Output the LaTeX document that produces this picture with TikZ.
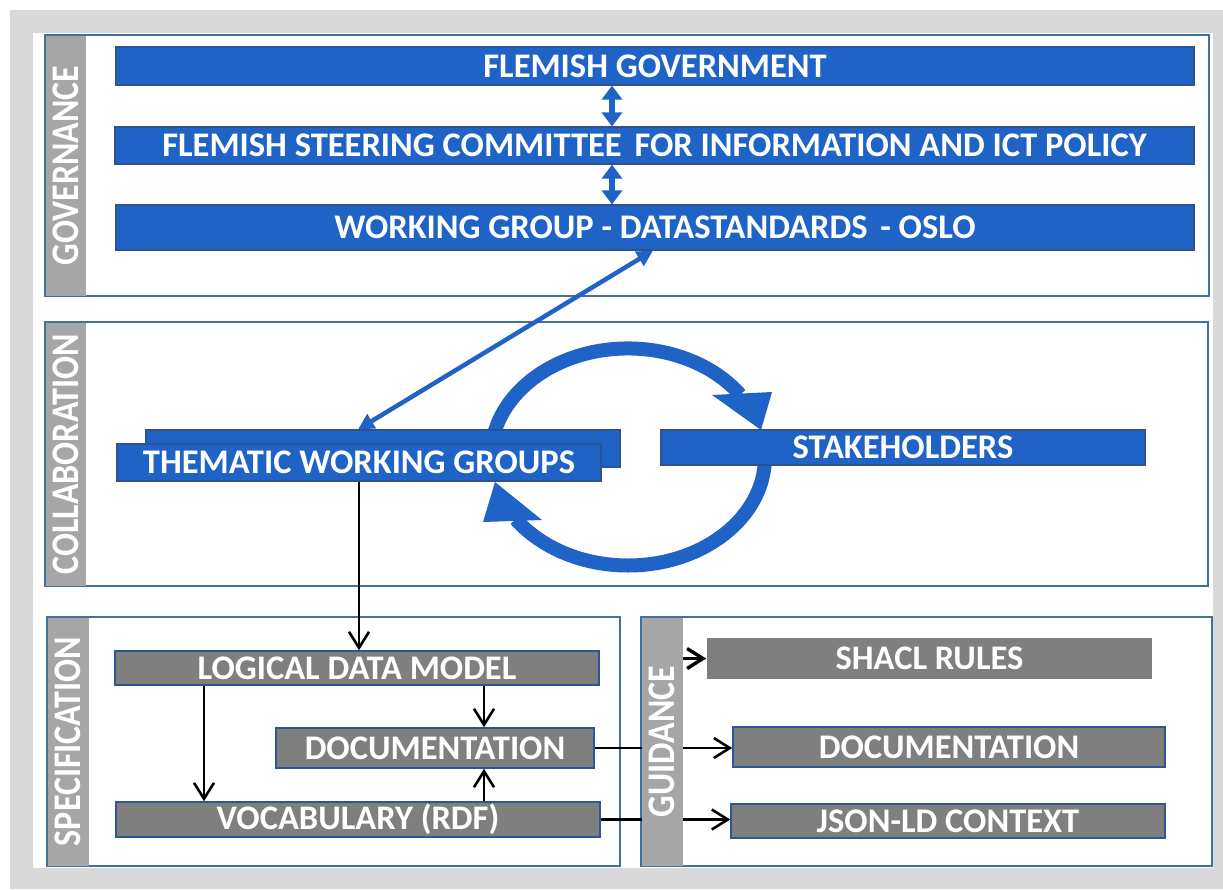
\documentclass[tikz,border=0pt]{standalone}
\usepackage{fontspec}
\setmainfont{Carlito}
\usetikzlibrary{arrows.meta}
\definecolor{bggray}{HTML}{D9D9D9}
\definecolor{frameblue}{HTML}{41719C}
\definecolor{barblue}{HTML}{1F63C6}
\definecolor{barborder}{HTML}{2F528F}
\definecolor{stripgray}{HTML}{A6A6A6}
\definecolor{boxgray}{HTML}{7F7F7F}
\definecolor{boxborder}{HTML}{2F5597}
\newcommand\mybarfont{\fontsize{34.5}{40}\selectfont\bfseries}
\newcommand\mystripfont{\fontsize{34}{40}\selectfont\bfseries}
\pgfdeclarelayer{fg}
\pgfsetlayers{main,fg}
\tikzset{
  bar/.style={draw=barborder, line width=1.2pt, fill=barblue, text=white, font=\mybarfont, inner sep=0pt},
  gbox/.style={draw=boxborder, line width=1.5pt, fill=boxgray, text=white, font=\mybarfont, inner sep=0pt},
  panel/.style={draw=frameblue, line width=1.5pt, fill=white},
  strip/.style={fill=stripgray, inner sep=0pt},
  striplabel/.style={text=white, font=\mystripfont, rotate=90, inner sep=0pt, yscale=1.15},
  blk/.style={draw=black, line width=2.6pt, -{Straight Barb[length=16pt,width=20pt]}},
  govarrow/.style={draw=barblue, line width=6pt, {Triangle[length=14pt,width=20pt]}-{Triangle[length=14pt,width=20pt]}},
  twgarrow/.style={draw=barblue, line width=4.5pt, {Triangle[length=16pt,width=16pt]}-{Triangle[length=16pt,width=16pt]}},
  cyc/.style={draw=barblue, line width=14pt},
}
\begin{document}
\begin{tikzpicture}[x=1pt,y=-1pt]
\useasboundingbox (0,0) rectangle (1223,889);
\fill[bggray] (10,10) rectangle (1223,889);
\fill[white] (33,33) rectangle (1213,868);
% panels
\draw[panel] (45,35) rectangle (1209,296);
\draw[panel] (45,322) rectangle (1208,586);
\draw[panel] (47,617) rectangle (620,866);
\draw[panel] (641,617) rectangle (1212,866);
% side strips (on top layer)
\begin{pgfonlayer}{fg}
\node[strip, minimum width=40pt, minimum height=260pt] (sgov) at (65.5,165.5) {};
\node[striplabel] (lgov) at (sgov.center) {GOVERNANCE};
\node[strip, minimum width=40pt, minimum height=263pt] (scol) at (65.5,454) {};
\node[striplabel] (lcol) at (scol.center) {COLLABORATION};
\node[strip, minimum width=41pt, minimum height=248pt] (sspec) at (68,741.5) {};
\node[striplabel] (lspec) at (sspec.center) {SPECIFICATION};
\node[strip, minimum width=41pt, minimum height=248pt] (sguid) at (662,741.5) {};
\node[striplabel] (lguid) at (sguid.center) {GUIDANCE};
\end{pgfonlayer}
% collaboration cycle
\draw[cyc] (491.5,447.5) arc[start angle=185, end angle=325, x radius=137, y radius=108.5];
\fill[barblue] (712,395) -- (772,392) -- (761,430) -- cycle;
\draw[cyc] (765,457) arc[start angle=0, end angle=145, x radius=137, y radius=108.5];
\fill[barblue] (495,482) -- (542,520) -- (483,522) -- cycle;
% governance bars
\node[bar, minimum width=1078pt, minimum height=38pt] (gov) at (655,66) {FLEMISH GOVERNMENT};
\node[bar, minimum width=1079pt, minimum height=37pt] (steer) at (654.5,145.5) {FLEMISH STEERING COMMITTEE\hspace{5pt} FOR INFORMATION AND ICT POLICY};
\node[bar, minimum width=1078pt, minimum height=45pt] (wg) at (655,227.5) {WORKING GROUP - DATASTANDARDS\hspace{5pt} - OSLO};
% collaboration bars
\node[bar, minimum width=474pt, minimum height=37pt] (twgback) at (383,448.5) {};
\node[bar, minimum width=484pt, minimum height=37pt] (twg) at (359,462.5) {THEMATIC WORKING GROUPS};
\node[bar, minimum width=484pt, minimum height=35pt] (stake) at (903,447.5) {STAKEHOLDERS};
% specification boxes
\node[gbox, minimum width=484pt, minimum height=34pt] (ldm) at (357,668) {LOGICAL DATA MODEL};
\node[gbox, minimum width=318pt, minimum height=40pt] (sdoc) at (435,748) {DOCUMENTATION};
\node[gbox, minimum width=484pt, minimum height=35pt] (vocab) at (358,819.5) {VOCABULARY (RDF)};
% guidance boxes
\node[gbox, draw=none, minimum width=445pt, minimum height=41pt] (shacl) at (929.5,658.5) {SHACL RULES};
\node[gbox, minimum width=432pt, minimum height=40pt] (gdoc) at (949,747) {DOCUMENTATION};
\node[gbox, minimum width=434pt, minimum height=34pt] (json) at (948,821) {JSON-LD CONTEXT};
% helper x positions
\coordinate (ax) at (612,0);
\coordinate (wgx) at (653,0);
\coordinate (twgx) at (358,0);
\coordinate (xa) at (204,0);
\coordinate (xb) at (484,0);
% governance arrows
\draw[govarrow] (gov.south -| ax) -- (steer.north -| ax);
\draw[govarrow] (steer.south -| ax) -- (wg.north -| ax);
\draw[twgarrow] (wg.south -| wgx) -- (twgback.north -| twgx);
% black flow arrows
\draw[blk] (twg.south) -- (twg.south |- ldm.north);
\draw[blk] (ldm.south -| xa) -- (vocab.north -| xa);
\draw[blk] (ldm.south -| xb) -- (sdoc.north -| xb);
\draw[blk] (vocab.north -| xb) -- (sdoc.south -| xb);
\draw[blk] (sdoc.east) -- (sdoc.east -| gdoc.west);
\draw[blk] (vocab.east) -- (vocab.east -| json.west);
\draw[blk, line width=3.4pt] (sguid.east |- shacl.west) -- (shacl.west);
\end{tikzpicture}
\end{document}
